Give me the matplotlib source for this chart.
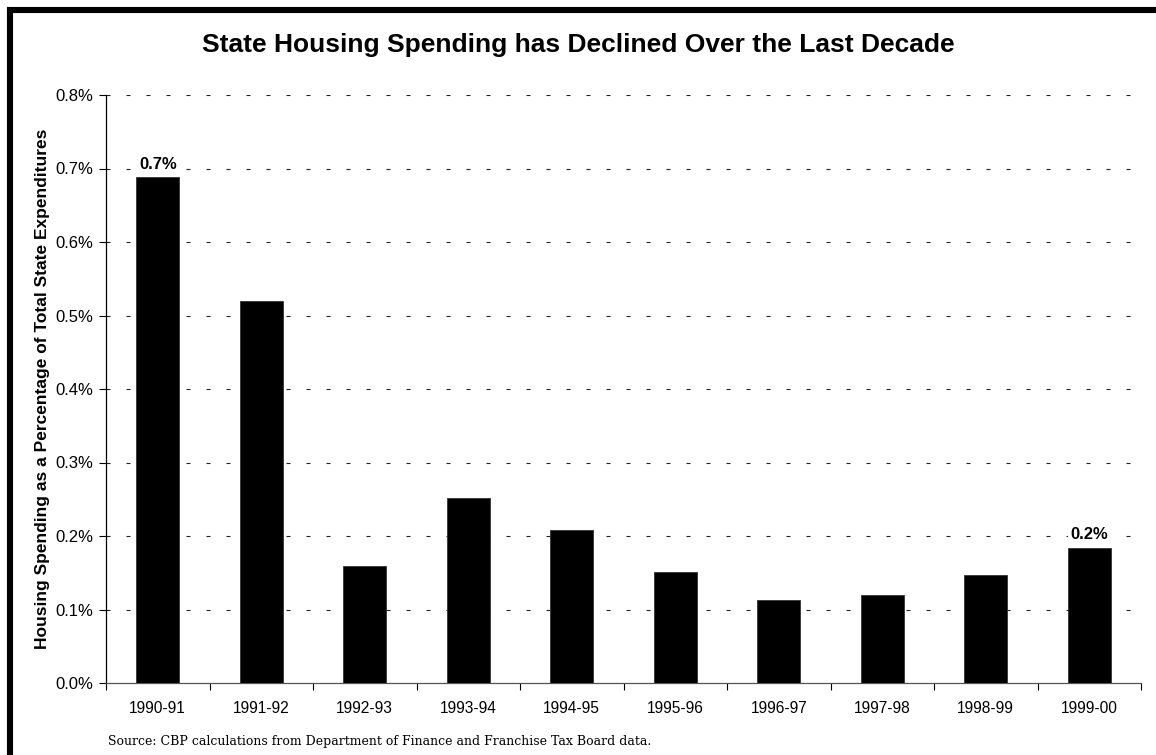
import numpy as np
import matplotlib
matplotlib.use("Agg")
import matplotlib.pyplot as plt
import matplotlib.patches as mpatches
from matplotlib.ticker import FixedLocator, NullFormatter

# Housing spending share of total state expenditures (percent)
years = ["1990-91", "1991-92", "1992-93", "1993-94", "1994-95",
         "1995-96", "1996-97", "1997-98", "1998-99", "1999-00"]
share_pct = [0.688, 0.520, 0.159, 0.252, 0.208, 0.151, 0.113, 0.120, 0.147, 0.184]
labelled = ["1990-91", "1999-00"]
y_ticks = [0.0, 0.1, 0.2, 0.3, 0.4, 0.5, 0.6, 0.7, 0.8]

W, H, DPI = 1156, 755, 100
SANS = ["Liberation Sans", "DejaVu Sans"]
SERIF = ["DejaVu Serif", "Liberation Serif"]

fig = plt.figure(figsize=(W / DPI, H / DPI), dpi=DPI)
fig.patch.set_facecolor("white")
ax = fig.add_axes([106 / W, 1 - 683 / H, (1141 - 106) / W, (683 - 95) / H])

x = np.arange(len(years))
ax.bar(x, share_pct, width=0.415, color="black", edgecolor="#333333",
       linewidth=0.6, zorder=3)

# value labels on the first and last bars, knocked out of the gridlines
for xi, yr, v in zip(x, years, share_pct):
    if yr in labelled:
        ax.annotate(f"{v:.1f}%", (xi, v), textcoords="offset points",
                    xytext=(0, 4), ha="center", va="bottom",
                    fontsize=12, fontweight="bold", family=SANS, zorder=4,
                    bbox=dict(boxstyle="square,pad=0.15", fc="white", ec="none"))

ax.set_xlim(-0.5, len(years) - 0.5)
ax.set_ylim(0, 0.8)

# dashed horizontal gridlines (not at zero)
for yv in y_ticks[1:]:
    ax.axhline(yv, color="#222222", linewidth=0.8,
               linestyle=(0, (3.6, 14.4)), zorder=1)

ax.set_yticks(y_ticks)
ax.set_yticklabels([f"{v:.1f}%" for v in y_ticks], family=SANS, fontsize=12)
ax.tick_params(axis="y", direction="out", length=5, width=0.8, pad=4)

# category labels centered, ticks at category boundaries
ax.set_xticks(x)
ax.set_xticklabels(years, family=SANS, fontsize=11.2)
ax.xaxis.set_minor_locator(FixedLocator(np.arange(-0.5, len(years), 1.0)))
ax.xaxis.set_minor_formatter(NullFormatter())
ax.tick_params(axis="x", which="major", length=0, pad=13)
ax.tick_params(axis="x", which="minor", direction="out", length=5, width=0.8)

for side in ("top", "right"):
    ax.spines[side].set_visible(False)
ax.spines["left"].set_linewidth(0.9)
ax.spines["bottom"].set_linewidth(0.9)
ax.spines["bottom"].set_color("#555555")

ax.set_ylabel("Housing Spending as a Percentage of Total State Expenditures",
              family=SANS, fontsize=12.5, fontweight="bold", labelpad=4)

fig.text(578 / W, 1 - 45 / H,
         "State Housing Spending has Declined Over the Last Decade",
         ha="center", va="center", family=SANS, fontsize=19, fontweight="bold")

fig.text(108 / W, 1 - 741 / H,
         "Source: CBP calculations from Department of Finance and Franchise Tax Board data.",
         ha="left", va="center", family=SERIF, fontsize=9.0)

# heavy frame running off the right and bottom edges
frame = mpatches.Rectangle((10 / W, -0.2), 1.3, 1 - 10 / H + 0.2,
                           transform=fig.transFigure, fill=False,
                           edgecolor="black", linewidth=4.4, clip_on=False)
fig.patches.append(frame)

fig.savefig("out.png", dpi=DPI, facecolor="white")
